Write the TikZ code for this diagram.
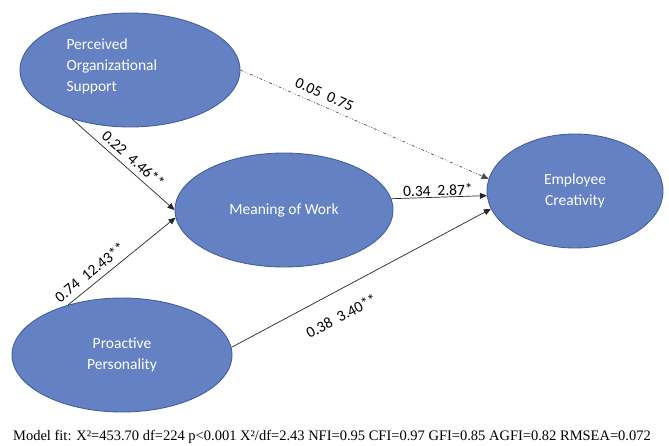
\documentclass[tikz,border=0pt]{standalone}
\usepackage{fontspec}
\setmainfont{Carlito}
\newfontfamily\capfont{Liberation Serif}
\usetikzlibrary{shapes.geometric, arrows.meta, positioning}
\definecolor{ovalblue}{RGB}{100,129,196}
\definecolor{ovalline}{RGB}{66,96,158}

\begin{document}
\begin{tikzpicture}[x=1pt, y=-1pt,
  oval/.style={ellipse, draw=ovalline, line width=0.9pt, fill=ovalblue, inner sep=0pt,
	text=white, align=center, font=\fontsize{15.5}{21}\selectfont},
  link/.style={draw=black!85, line width=0.7pt, -{Triangle[length=7pt,width=6pt]}},
  coef/.style={font=\fontsize{15.5}{18}\selectfont, sloped, inner sep=2pt}]

  \useasboundingbox (0,0) rectangle (669,445);

  \node[oval, minimum width=220pt, minimum height=114pt] (POS) at (130,70) {};
  \node[align=left, anchor=west, text=white, font=\fontsize{15.5}{21}\selectfont] (POSlabel) at (63,66) {Perceived\\Organizational\\Support};
  \node[oval, minimum width=218pt, minimum height=114pt] (MoW) at (284,210) {Meaning of Work};
  \node[oval, minimum width=176pt, minimum height=114pt] (EC) at (575,191) {Employee\\Creativity};
  \node[oval, minimum width=220pt, minimum height=114pt] (PP) at (122,355) {Proactive\\Personality};

  \draw[link] (POS.-140) -- node[coef, above=3pt, pos=.53] (c1) {0.22\ \ 4.46**} (MoW.180);
  \draw[link, draw=black!70, dash dot dot] (POS.0) -- node[coef, above=4pt, pos=.32] (c2) {0.05\ \ 0.75} (EC.172);
  \draw[link] (MoW.6) -- node[coef, above=-1pt, pos=.49] (c3) {0.34\ \ 2.87*} (EC.183);
  \draw[link] (PP.137) -- node[coef, above=4pt, pos=.27] (c4) {0.74\ \ 12.43**} (MoW.184);
  \draw[link] (PP.4) -- node[coef, below=16pt, pos=.38] (c5) {0.38\ \ 3.40**} (EC.192);

  \node[font=\capfont\fontsize{14.5}{16}\selectfont] (fit) at (332,437) {Model fit: X²=453.70 df=224 p<0.001 X²/df=2.43 NFI=0.95 CFI=0.97 GFI=0.85 AGFI=0.82 RMSEA=0.072};
\end{tikzpicture}
\end{document}
